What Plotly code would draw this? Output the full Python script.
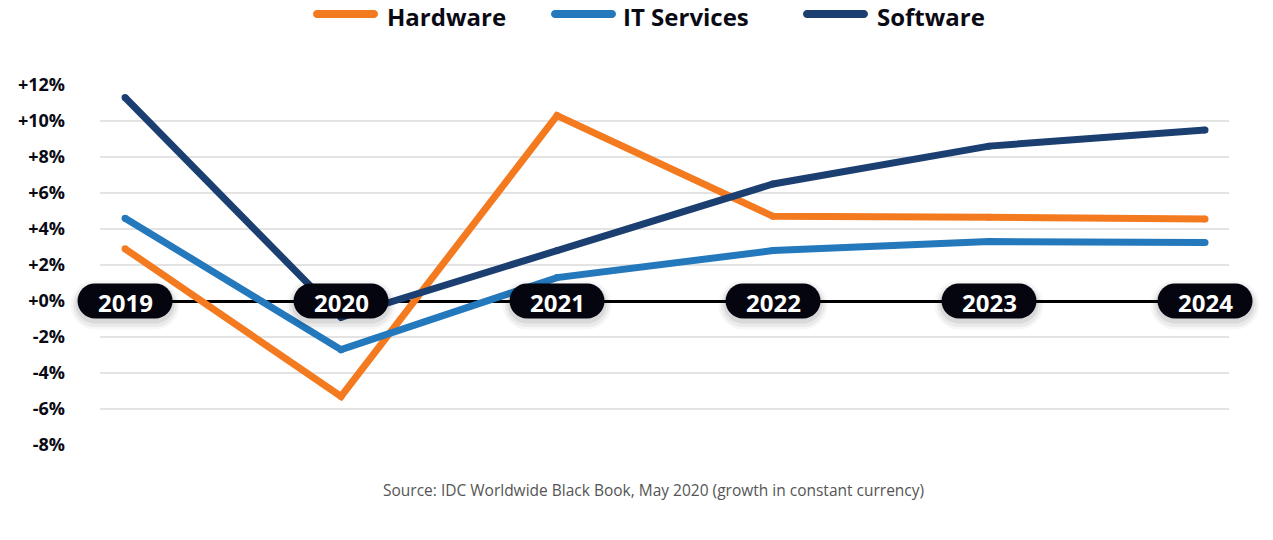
import plotly.graph_objects as go

years = [2019, 2020, 2021, 2022, 2023, 2024]
year_labels = ["2019", "2020", "2021", "2022", "2023", "2024"]
hardware = [2.9, -5.3, 10.3, 4.7, 4.65, 4.55]
it_services = [4.6, -2.7, 1.3, 2.8, 3.3, 3.25]
software = [11.3, -0.9, 2.8, 6.5, 8.6, 9.5]
series_names = ["Hardware", "IT Services", "Software"]
series_colors = ["#F47A20", "#2479BD", "#1C3F72"]
tick_vals = [12, 10, 8, 6, 4, 2, 0, -2, -4, -6, -8]
tick_text = ["+12%", "+10%", "+8%", "+6%", "+4%", "+2%", "+0%", "-2%", "-4%", "-6%", "-8%"]
source_text = "Source: IDC Worldwide Black Book, May 2020 (growth in constant currency)"

FONT = "Open Sans"
W, H = 1273, 540
ML, MR, MT, MB = 100, 44, 84, 94
X_RANGE = [2018.884, 2024.111]
Y_RANGE = [-8.05, 12.05]
PLOT_W = W - ML - MR
PLOT_H = H - MT - MB

# legend layout (pixel positions of the key swatches and labels)
LEGEND_SWATCH_Y = 14
LEGEND_TEXT_Y = 17
LEGEND_SWATCH_X = [313, 551, 803]
LEGEND_TEXT_X = [388, 624, 878]

fig = go.Figure()
for name, vals, col in zip(series_names, [hardware, it_services, software], series_colors):
    fig.add_trace(go.Scatter(
        x=years, y=vals, name=name, mode="lines+markers",
        line=dict(color=col, width=7),
        marker=dict(color=col, size=7, line=dict(width=0)),
        hoverinfo="skip", showlegend=False,
    ))


def pill(w, h, r, dy=0.0, cx=0.0):
    x0, x1 = -w / 2 + cx, w / 2 + cx
    y0, y1 = -h / 2 + dy, h / 2 + dy
    k = 0.5523 * r
    return (f"M {x0 + r},{y0} L {x1 - r},{y0} "
            f"C {x1 - r + k},{y0} {x1},{y0 + r - k} {x1},{y0 + r} "
            f"L {x1},{y1 - r} "
            f"C {x1},{y1 - r + k} {x1 - r + k},{y1} {x1 - r},{y1} "
            f"L {x0 + r},{y1} "
            f"C {x0 + r - k},{y1} {x0},{y1 - r + k} {x0},{y1 - r} "
            f"L {x0},{y0 + r} "
            f"C {x0},{y0 + r - k} {x0 + r - k},{y0} {x0 + r},{y0} Z")


def to_paper_x(v):
    return (v - X_RANGE[0]) / (X_RANGE[1] - X_RANGE[0])


def to_paper_y(v):
    return (v - Y_RANGE[0]) / (Y_RANGE[1] - Y_RANGE[0])


def px_to_paper_x(p):
    return (p - ML) / PLOT_W


def px_to_paper_y(p):
    return ((H - MB) - p) / PLOT_H


shapes = []
annotations = []

# year "pills" sitting on the zero line
for yr, lab in zip(years, year_labels):
    px, py = to_paper_x(yr), to_paper_y(0)
    for grow, dy, alpha in [(14, -4, 0.03), (9, -4, 0.05), (4, -3, 0.07)]:
        shapes.append(dict(
            type="path", xref="paper", yref="paper", xsizemode="pixel", ysizemode="pixel",
            xanchor=px, yanchor=py,
            path=pill(95 + grow, 35 + grow, (35 + grow) / 2, dy),
            fillcolor=f"rgba(0,0,0,{alpha})", line=dict(width=0), layer="above",
        ))
    shapes.append(dict(
        type="path", xref="paper", yref="paper", xsizemode="pixel", ysizemode="pixel",
        xanchor=px, yanchor=py, path=pill(95, 35, 17.5),
        fillcolor="#05050F", line=dict(width=0), layer="above",
    ))
    annotations.append(dict(
        x=px, y=py, xref="paper", yref="paper", text=lab, showarrow=False,
        font=dict(family=FONT, size=24, color="white", weight="bold"),
        xanchor="center", yanchor="middle", yshift=-1,
    ))

# legend key
for name, col, sx, tx in zip(series_names, series_colors, LEGEND_SWATCH_X, LEGEND_TEXT_X):
    shapes.append(dict(
        type="path", xref="paper", yref="paper", xsizemode="pixel", ysizemode="pixel",
        xanchor=px_to_paper_x(sx), yanchor=px_to_paper_y(LEGEND_SWATCH_Y),
        path=pill(65, 8, 4, 0, 32.5),
        fillcolor=col, line=dict(width=0), layer="above",
    ))
    annotations.append(dict(
        x=px_to_paper_x(tx), y=px_to_paper_y(LEGEND_TEXT_Y), xref="paper", yref="paper",
        text=name, showarrow=False, borderpad=0,
        font=dict(family=FONT, size=24, color="#0A0A14", weight="bold"),
        xanchor="left", yanchor="middle", xshift=-2,
    ))

annotations.append(dict(
    x=px_to_paper_x(653), y=px_to_paper_y(490), xref="paper", yref="paper",
    text=source_text, showarrow=False,
    font=dict(family=FONT, size=15.5, color="#555555"),
    xanchor="center", yanchor="middle",
))

fig.update_layout(
    width=W, height=H,
    margin=dict(l=ML, r=MR, t=MT, b=MB),
    paper_bgcolor="white", plot_bgcolor="white",
    showlegend=False,
    xaxis=dict(
        range=X_RANGE, showgrid=False, zeroline=False,
        showticklabels=False, ticks="", showline=False, fixedrange=True,
    ),
    yaxis=dict(
        range=Y_RANGE, tickvals=tick_vals, ticktext=tick_text,
        showgrid=True, gridcolor="#E3E3E3", gridwidth=2,
        zeroline=True, zerolinecolor="#000000", zerolinewidth=3,
        tickfont=dict(family=FONT, size=18, color="#0A0A14", weight="bold"),
        ticks="", ticklabelstandoff=34, showline=False, fixedrange=True,
    ),
    shapes=shapes, annotations=annotations,
    font=dict(family=FONT),
)

fig.write_html("out.html", config={"displayModeBar": False},
               post_script="document.body.style.margin='0';")
